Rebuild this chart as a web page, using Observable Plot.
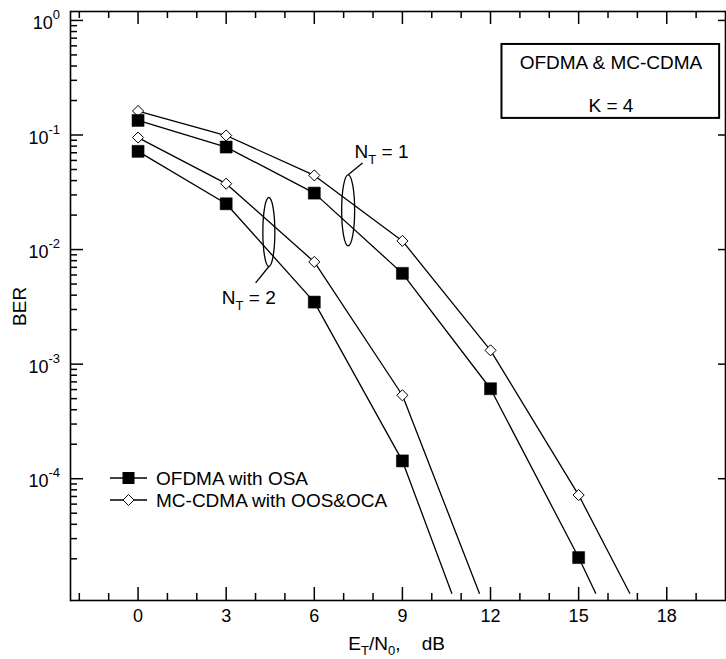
<!DOCTYPE html>
<html><head><meta charset="utf-8">
<script src="https://cdn.jsdelivr.net/npm/d3@7"></script>
<script src="https://cdn.jsdelivr.net/npm/@observablehq/plot@0.6"></script>
<style>body{margin:0;background:#fff}</style>
</head><body><div id="chart"></div>
<script>
// ---------- data ----------
const snrNT1 = [0, 3, 6, 9, 12, 15];
const snrNT2 = [0, 3, 6, 9];
const ofdmaNT1  = [0.134, 0.0785, 0.0311, 0.0062, 6.1e-4, 2.05e-5];
const mccdmaNT1 = [0.162, 0.099, 0.0444, 0.0119, 1.32e-3, 7.2e-5];
const ofdmaNT2  = [0.072, 0.0251, 0.00348, 1.43e-4];
const mccdmaNT2 = [0.095, 0.0376, 0.0078, 5.35e-4];
// points where each curve leaves the plot at the bottom (BER = 1e-5)
const exitBER = 1e-5;
const exitOfdmaNT1 = 15.58, exitMccdmaNT1 = 16.74, exitOfdmaNT2 = 10.68, exitMccdmaNT2 = 11.62;
const seriesNames = ["OFDMA with OSA", "MC-CDMA with OOS&OCA"];
const xMajor = [0, 3, 6, 9, 12, 15, 18];
const xMinor = [-2, -1, 1, 2, 4, 5, 7, 8, 10, 11, 13, 14, 16, 17, 19];
const yExponents = [0, -1, -2, -3, -4];
const yMinorMult = [2, 3, 4, 5, 6, 7, 8, 9];
const boxLines = ["OFDMA & MC-CDMA", "K = 4"];
const ntLabels = ["1", "2"];

// ---------- build tables ----------
const yMajor = yExponents.map(e => Math.pow(10, e));
const yMinor = [];
for (let e = -5; e <= -1; e++) for (const m of yMinorMult) yMinor.push(m * Math.pow(10, e));

const rows = [];
function addSeries(key, kind, xs, ys, exitX) {
  xs.forEach((x, i) => rows.push({key, kind, x, ber: ys[i], marked: true}));
  rows.push({key, kind, x: exitX, ber: exitBER, marked: false});
}
addSeries("o1", "ofdma", snrNT1, ofdmaNT1, exitOfdmaNT1);
addSeries("m1", "mccdma", snrNT1, mccdmaNT1, exitMccdmaNT1);
addSeries("o2", "ofdma", snrNT2, ofdmaNT2, exitOfdmaNT2);
addSeries("m2", "mccdma", snrNT2, mccdmaNT2, exitMccdmaNT2);

const W = 726, H = 659, mL = 70, mR = 1, mT = 11, mB = 59;
const innerW = W - mL - mR, innerH = H - mT - mB;
const FONT = "'Liberation Sans', Arial, Helvetica, sans-serif";
const FS = 19, FT = 18;

const plot = Plot.plot({
  width: W, height: H,
  marginLeft: mL, marginRight: mR, marginTop: mT, marginBottom: mB,
  style: {fontFamily: FONT, fontSize: FS + "px", background: "white", color: "black"},
  x: {domain: [-2.3, 20], axis: null},
  y: {type: "log", domain: [Math.pow(10, -5.063), Math.pow(10, 0.078)], axis: null},
  marks: [
    // ticks (inward on all four sides)
    Plot.tickX(xMajor, {x: d => d, insetTop: innerH - 13, strokeWidth: 1.5}),
    Plot.tickX(xMinor, {x: d => d, insetTop: innerH - 7, strokeWidth: 1.5}),
    Plot.tickX(xMajor, {x: d => d, insetBottom: innerH - 13, strokeWidth: 1.5}),
    Plot.tickX(xMinor, {x: d => d, insetBottom: innerH - 7, strokeWidth: 1.5}),
    Plot.tickY(yMajor, {y: d => d, insetRight: innerW - 13, strokeWidth: 1.5}),
    Plot.tickY(yMinor, {y: d => d, insetRight: innerW - 7, strokeWidth: 1.5}),
    Plot.tickY(yMajor, {y: d => d, insetLeft: innerW - 7, strokeWidth: 1.5}),
    Plot.frame({stroke: "black", strokeWidth: 1.6}),
    // x tick labels
    Plot.text(xMajor, {x: d => d, frameAnchor: "bottom", dy: 21, text: d => String(d), fontSize: FT}),
    // curves
    Plot.line(rows, {x: "x", y: "ber", z: "key", stroke: "black", strokeWidth: 1.3}),
    Plot.dot(rows.filter(d => d.marked && d.kind === "mccdma"), {x: "x", y: "ber", symbol: "diamond2", r: 5, fill: "white", stroke: "black", strokeWidth: 1}),
    Plot.dot(rows.filter(d => d.marked && d.kind === "ofdma"), {x: "x", y: "ber", symbol: "square", r: 6.8, fill: "black", stroke: "black", strokeWidth: 0.5}),
    // annotation box
    Plot.rect([0], {x1: 12.39, x2: 19.8, y1: 0.617, y2: 0.1396, fill: "white", stroke: "black", strokeWidth: 2}),
    Plot.text(boxLines, {x: 16.1, y: (d, i) => i === 0 ? 0.43 : 0.181, text: d => d, fontSize: FS})
  ]
});

const sx = plot.scale("x"), sy = plot.scale("y");
const svg = d3.select(plot);

// y tick labels 10^e
yExponents.forEach((e, i) => {
  const t = svg.append("text")
    .attr("x", mL - 10).attr("y", sy.apply(yMajor[i]) + 9)
    .attr("text-anchor", "end").attr("font-family", FONT).attr("font-size", FT).attr("fill", "black");
  t.append("tspan").text("10");
  t.append("tspan").attr("dy", -10).attr("font-size", 13).text(String(e));
});

// y axis title
svg.append("text")
  .attr("transform", `translate(26,${sy.apply(Math.pow(10, -2.5))}) rotate(-90)`)
  .attr("text-anchor", "middle").attr("font-family", FONT).attr("font-size", FS).attr("fill", "black")
  .text("BER");

// x axis title E_T/N_0,  dB
{
  const t = svg.append("text")
    .attr("x", sx.apply(8.82)).attr("y", 650)
    .attr("text-anchor", "middle").attr("font-family", FONT).attr("font-size", FS).attr("fill", "black");
  t.append("tspan").text("E");
  t.append("tspan").attr("dy", 5).attr("font-size", 13).text("T");
  t.append("tspan").attr("dy", -5).text("/N");
  t.append("tspan").attr("dy", 5).attr("font-size", 13).text("0");
  t.append("tspan").attr("dy", -5).text(",\u00a0\u00a0\u00a0\u00a0dB");
}

// N_T ellipses with leaders and labels
const ntAnn = [
  {cx: 7.17, cy: 0.0218, rx: 6.5, ry: 35.5, lx: 7.66, ly: 0.0565, leadTop: true, tx: 7.39, ty: 0.0625},
  {cx: 4.47, cy: 0.0141, rx: 6, ry: 34.5, lx: 4.02, ly: 0.00507, leadTop: false, tx: 2.87, ty: 0.00333}
];
ntAnn.forEach((a, i) => {
  const cx = sx.apply(a.cx), cy = sy.apply(a.cy);
  svg.append("ellipse").attr("cx", cx).attr("cy", cy).attr("rx", a.rx).attr("ry", a.ry)
    .attr("fill", "none").attr("stroke", "black").attr("stroke-width", 1.3);
  const y0 = a.leadTop ? cy - a.ry : cy + a.ry;
  svg.append("line").attr("x1", cx).attr("y1", y0).attr("x2", sx.apply(a.lx)).attr("y2", sy.apply(a.ly))
    .attr("stroke", "black").attr("stroke-width", 1.3);
  const t = svg.append("text").attr("x", sx.apply(a.tx)).attr("y", sy.apply(a.ty))
    .attr("text-anchor", "start")
    .attr("font-family", FONT).attr("font-size", FS).attr("fill", "black");
  t.append("tspan").text("N");
  t.append("tspan").attr("dy", 6).attr("font-size", 13).text("T");
  t.append("tspan").attr("dy", -6).text("\u00a0= " + ntLabels[i]);
});

// legend
seriesNames.forEach((name, i) => {
  const y = 478 + i * 22;
  svg.append("line").attr("x1", 110).attr("x2", 147).attr("y1", y).attr("y2", y)
    .attr("stroke", "black").attr("stroke-width", 1.3);
  if (i === 0) {
    svg.append("rect").attr("x", 122.5).attr("y", y - 6).attr("width", 12).attr("height", 12).attr("fill", "black");
  } else {
    svg.append("path").attr("d", `M128.5,${y - 5.5}L134,${y}L128.5,${y + 5.5}L123,${y}Z`)
      .attr("fill", "white").attr("stroke", "black").attr("stroke-width", 1);
  }
  svg.append("text").attr("x", 156).attr("y", y + 7).attr("text-anchor", "start")
    .attr("font-family", FONT).attr("font-size", FS)
    .attr("fill", "black").text(name);
});

document.getElementById("chart").appendChild(plot);
</script>
</body></html>
